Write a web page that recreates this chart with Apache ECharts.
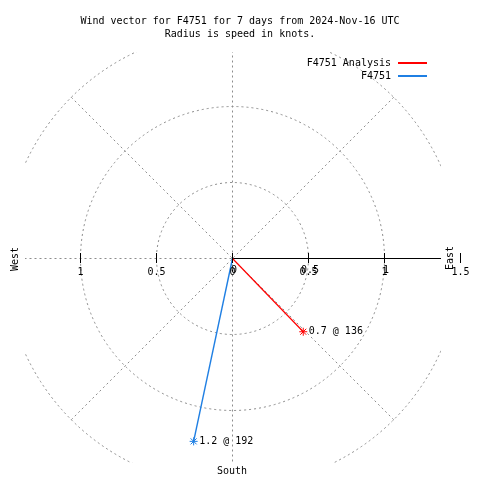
<!DOCTYPE html>
<html>
<head>
<meta charset="utf-8">
<script src="https://cdn.jsdelivr.net/npm/echarts@6/dist/echarts.min.js"></script>
<style>html,body{margin:0;padding:0;background:#fff}#c{width:480px;height:480px}</style>
</head>
<body>
<div id="c"></div>
<script>
const TITLE_LINES = ['Wind vector for F4751 for 7 days from 2024-Nov-16 UTC', 'Radius is speed in knots.'];
const SERIES_NAMES = ['F4751 Analysis', 'F4751'];
const SPEEDS = [0.67, 1.23];
const DIRECTIONS = [136, 192];
const SERIES_COLORS = ['#ff0000', '#1f7fe3'];
const RADIUS_MAX = 1.5;
const RADIUS_STEP = 0.5;
const ANGLE_STEP = 45;
const TICK_VALUES = [-1, -0.5, 0, 0.5, 1, 1.5];
const LABEL_VALUES = [-1, -0.5, 0, 0.5, 1, 1.5];
const DUP_LABEL_VALUES = [0, 0.5, 1];
const COMPASS_LABELS = { west: 'West', east: 'East', south: 'South' };

const FONT = 'DejaVu Sans Mono';
const GRID_LINE = { color: '#8c8c8c', width: 1, type: [2, 3] };
const CX = 232.5, CY = 258.5, R = 228;
const STAR = 'path://M-4,0L4,0M0,-4L0,4M-3,-3L3,3M-3,3L3,-3';

const chart = echarts.init(document.getElementById('c'), null, { renderer: 'canvas' });

const series = SERIES_NAMES.map((name, i) => ({
  name: name,
  type: 'line',
  coordinateSystem: 'polar',
  symbol: 'none',
  lineStyle: { color: SERIES_COLORS[i], width: i === 0 ? 1.2 : 1.4 },
  itemStyle: { color: SERIES_COLORS[i], borderColor: SERIES_COLORS[i], borderWidth: 1 },
  z: 3,
  data: [
    { value: [0, DIRECTIONS[i]] },
    {
      value: [SPEEDS[i], DIRECTIONS[i]],
      symbol: STAR,
      symbolSize: 8,
      label: {
        show: true,
        position: 'right',
        distance: 1,
        formatter: SPEEDS[i].toFixed(1) + ' @ ' + DIRECTIONS[i],
        fontFamily: FONT,
        fontSize: 10,
        color: '#000'
      }
    }
  ]
}));

const option = {
  animation: false,
  backgroundColor: '#fff',
  title: {
    text: TITLE_LINES.join('\n'),
    left: 'center',
    top: 15,
    padding: [0, 17, 0, 0],
    textStyle: { fontFamily: FONT, fontSize: 10, fontWeight: 'normal', color: '#000', lineHeight: 13 }
  },
  legend: {
    data: SERIES_NAMES,
    orient: 'vertical',
    align: 'right',
    right: 53,
    top: 57,
    padding: 0,
    icon: 'rect',
    itemWidth: 29,
    itemHeight: 2,
    itemGap: 1,
    selectedMode: false,
    itemStyle: { borderWidth: 0 },
    textStyle: { fontFamily: FONT, fontSize: 10, color: '#000', padding: [0, 2, 0, 0], lineHeight: 12 }
  },
  polar: { center: [CX, CY], radius: R },
  angleAxis: {
    type: 'value', min: 90, max: 450, interval: ANGLE_STEP,
    startAngle: 0, clockwise: true, z: 0,
    axisLine: { show: false }, axisTick: { show: false }, axisLabel: { show: false },
    splitLine: { show: true, lineStyle: GRID_LINE }
  },
  radiusAxis: {
    type: 'value', min: 0, max: RADIUS_MAX, interval: RADIUS_STEP, z: 0,
    axisLine: { show: true, lineStyle: { color: '#000', width: 1 } },
    axisTick: { show: false }, axisLabel: { show: false },
    splitLine: { show: true, lineStyle: GRID_LINE }
  },
  grid: [{ left: CX - R, width: 2 * R, top: 100, height: CY + 4.5 - 100, show: false }],
  xAxis: [
    {
      gridIndex: 0, type: 'value', min: -RADIUS_MAX, max: RADIUS_MAX, interval: RADIUS_STEP,
      position: 'bottom', z: 5,
      axisLine: { show: false, onZero: false },
      splitLine: { show: false },
      axisTick: { show: true, inside: true, length: 10, customValues: TICK_VALUES, lineStyle: { color: '#000', width: 1 } },
      axisLabel: {
        show: true, customValues: LABEL_VALUES, margin: 4,
        formatter: v => String(Math.abs(v)),
        fontFamily: FONT, fontSize: 10, color: '#000'
      }
    },
    {
      gridIndex: 0, type: 'value', min: -RADIUS_MAX, max: RADIUS_MAX, interval: RADIUS_STEP,
      position: 'bottom', z: 5,
      axisLine: { show: false, onZero: false },
      splitLine: { show: false },
      axisTick: { show: false },
      axisLabel: {
        show: true, customValues: DUP_LABEL_VALUES, margin: 2, padding: [0, 0, 0, 3],
        formatter: v => String(Math.abs(v)),
        fontFamily: FONT, fontSize: 10, color: '#000'
      }
    }
  ],
  yAxis: [{ gridIndex: 0, type: 'value', show: false }],
  graphic: [
    { type: 'rect', z: 1, silent: true, shape: { x: 0, y: 0, width: 480, height: 52 }, style: { fill: '#fff' } },
    { type: 'rect', z: 1, silent: true, shape: { x: 0, y: 463, width: 480, height: 17 }, style: { fill: '#fff' } },
    { type: 'rect', z: 1, silent: true, shape: { x: 0, y: 0, width: 25, height: 480 }, style: { fill: '#fff' } },
    { type: 'rect', z: 1, silent: true, shape: { x: 441, y: 0, width: 39, height: 480 }, style: { fill: '#fff' } },
    { type: 'text', z: 10, x: 15.5, y: 259, rotation: Math.PI / 2,
      style: { text: COMPASS_LABELS.west, font: '10px ' + FONT, fill: '#000', textAlign: 'center', textVerticalAlign: 'middle' } },
    { type: 'text', z: 10, x: 450.5, y: 258, rotation: Math.PI / 2,
      style: { text: COMPASS_LABELS.east, font: '10px ' + FONT, fill: '#000', textAlign: 'center', textVerticalAlign: 'middle' } },
    { type: 'text', z: 10, x: 232, y: 471,
      style: { text: COMPASS_LABELS.south, font: '10px ' + FONT, fill: '#000', textAlign: 'center', textVerticalAlign: 'middle' } }
  ],
  series: series
};

chart.setOption(option);
</script>
</body>
</html>
